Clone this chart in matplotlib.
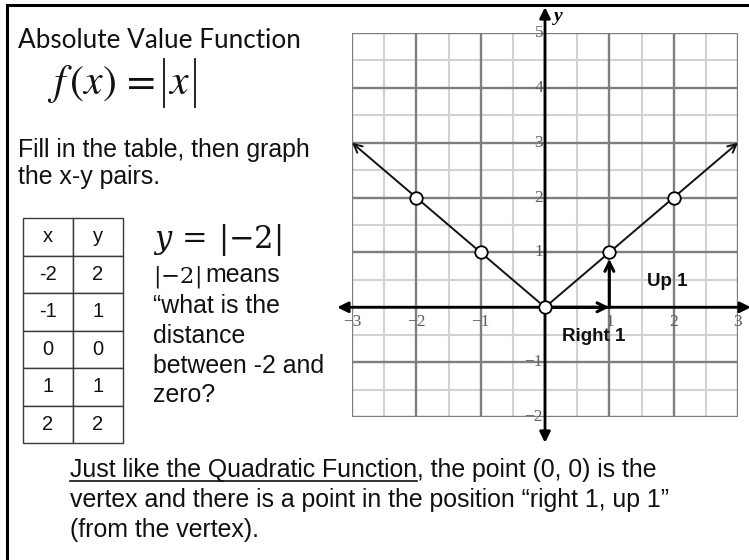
import numpy as np
import matplotlib
matplotlib.use("Agg")
import matplotlib.pyplot as plt
from matplotlib.patches import Rectangle
from matplotlib.lines import Line2D

plt.rcParams['mathtext.fontset'] = 'stix'

W, H = 749, 560

# ---- data ----
table_x = [-2, -1, 0, 1, 2]
table_y = [2, 1, 0, 1, 2]
line_x = [-3, 0, 3]
line_y = [3, 0, 3]
x_ticks = [-3, -2, -1, 1, 2, 3]
x_tick_labels = ['−3', '−2', '−1', '1', '2', '3']
y_ticks = [-2, -1, 1, 2, 3, 4, 5]
y_tick_labels = ['−2', '−1', '1', '2', '3', '4', '5']
vertex = (0, 0)
right_one = (1, 0)
up_one = (1, 1)
x_range = (-3, 3)
y_range = (-2, 5)

fig = plt.figure(figsize=(W / 100, H / 100), dpi=100)
fig.patch.set_facecolor('white')

def ftxt(x, y, s, **kw):
    return fig.text(x / W, 1 - y / H, s, **kw)

def fline(x0, y0, x1, y1, **kw):
    fig.add_artist(Line2D([x0 / W, x1 / W], [1 - y0 / H, 1 - y1 / H],
                          transform=fig.transFigure, **kw))

SANS = ['Liberation Sans', 'DejaVu Sans']
SERIF = ['Liberation Serif', 'DejaVu Serif']
TXT = '#111111'
FS = 17.9

# border (top and left visible)
fig.add_artist(Rectangle((7 / W, -0.05), 1.2, 1 - 5 / H + 0.05, transform=fig.transFigure,
                         fill=False, lw=2.2, edgecolor='black', clip_on=False))

# ---- graph ----
ax = fig.add_axes([352 / W, 1 - 417 / H, 386 / W, 384 / H])
ax.set_xlim(*x_range)
ax.set_ylim(*y_range)
ax.axis('off')

xs = np.arange(x_range[0], x_range[1] + 0.01, 0.5)
ys = np.arange(y_range[0], y_range[1] + 0.01, 0.5)
for v in xs:
    if v != int(v):
        ax.plot([v, v], y_range, color='#d2d2d2', lw=1.5, zorder=1, solid_capstyle='butt')
for v in ys:
    if v != int(v):
        ax.plot(x_range, [v, v], color='#d2d2d2', lw=1.5, zorder=1, solid_capstyle='butt')
for v in xs:
    if v == int(v):
        ax.plot([v, v], y_range, color='#7e7e7e', lw=1.7, zorder=2, solid_capstyle='projecting')
for v in ys:
    if v == int(v):
        ax.plot(x_range, [v, v], color='#7e7e7e', lw=1.7, zorder=2, solid_capstyle='projecting')

# axes arrows
ax.annotate('', xy=(3.2, 0), xytext=(-3.23, 0), annotation_clip=False,
            arrowprops=dict(arrowstyle='<|-|>', lw=2.0, color='black',
                            mutation_scale=16, shrinkA=0, shrinkB=0), zorder=4)
ax.annotate('', xy=(0, 5.47), xytext=(0, -2.47), annotation_clip=False,
            arrowprops=dict(arrowstyle='<|-|>', lw=2.0, color='black',
                            mutation_scale=16, shrinkA=0, shrinkB=0), zorder=4)

# tick labels
for xt, lab in zip(x_ticks, x_tick_labels):
    ax.text(xt, -0.26, lab, ha='center', va='center', fontsize=12.5,
            family=SERIF, color='#5e5e5e', zorder=3)
for yt, lab in zip(y_ticks, y_tick_labels):
    ax.text(-0.03, yt, lab, ha='right', va='center', fontsize=12.5,
            family=SERIF, color='#5e5e5e', zorder=3)
ax.text(0.14, 5.3, 'y', ha='left', va='center', fontsize=14, fontstyle='italic',
        fontweight='bold', family=SERIF, color='black')

# function branches with arrowheads
for i in (0, 2):
    ax.annotate('', xy=(line_x[i], line_y[i]), xytext=(line_x[1], line_y[1]),
                annotation_clip=False,
                arrowprops=dict(arrowstyle='->', lw=1.4, color='#111111', mutation_scale=15,
                                shrinkA=0, shrinkB=0), zorder=5)

# right 1, up 1 arrows
ax.annotate('', xy=right_one, xytext=vertex, annotation_clip=False,
            arrowprops=dict(arrowstyle='->', lw=2.2, color='black', mutation_scale=16,
                            shrinkA=0, shrinkB=0), zorder=6)
ax.annotate('', xy=(up_one[0], up_one[1] - 0.12), xytext=right_one, annotation_clip=False,
            arrowprops=dict(arrowstyle='->', lw=2.2, color='black', mutation_scale=16,
                            shrinkA=0, shrinkB=0), zorder=6)

ax.plot(table_x, table_y, 'o', mfc='white', mec='black', ms=9, mew=1.3, zorder=7, clip_on=False)

ax.text(1.9, 0.47, 'Up 1', ha='center', va='center', fontsize=13.5, fontweight='bold',
        family=SANS, color=TXT, zorder=8)
ax.text(0.75, -0.53, 'Right 1', ha='center', va='center', fontsize=13.5, fontweight='bold',
        family=SANS, color=TXT, zorder=8)

# ---- left text ----
ftxt(18, 48, 'Absolute Value Function', fontsize=18.8, family=['Lato', 'DejaVu Sans'],
     color=TXT, va='baseline')
ftxt(47, 94, r'$f\,(x)\,=$', fontsize=30, color=TXT, va='baseline')
fline(164, 59, 164, 107, color=TXT, lw=1.3)
ftxt(168, 94, r'$x$', fontsize=30, color=TXT, va='baseline')
fline(195, 59, 195, 107, color=TXT, lw=1.3)

ftxt(18, 157, 'Fill in the table, then graph', fontsize=FS, family=SANS, color=TXT, va='baseline')
ftxt(18, 184, 'the x-y pairs.', fontsize=FS, family=SANS, color=TXT, va='baseline')

ftxt(153, 248, r'$y\,=\,|{-}2|$', fontsize=22, color=TXT, va='baseline',
     math_fontfamily='dejavuserif')
tm = ftxt(153, 282, r'$|{-}2|$', fontsize=FS - 1.5, color=TXT, va='baseline',
          math_fontfamily='dejavuserif')
for yy, line in zip([313, 343, 373, 402], ['“what is the', 'distance', 'between -2 and', 'zero?']):
    ftxt(153, yy, line, fontsize=FS, family=SANS, color=TXT, va='baseline')

# table
axt = fig.add_axes([23 / W, 1 - 443 / H, 100 / W, 225 / H])
axt.axis('off')
cells = [['x', 'y']] + [[str(a), str(b)] for a, b in zip(table_x, table_y)]
tb = axt.table(cellText=cells, cellLoc='center', bbox=[0, 0, 1, 1])
tb.auto_set_font_size(False)
for (r, c), cell in tb.get_celld().items():
    cell.set_edgecolor('#3a3a3a')
    cell.set_linewidth(1.0)
    cell.get_text().set_fontsize(14.5)
    cell.get_text().set_fontfamily(SANS)
    cell.get_text().set_color(TXT)

# ---- bottom text ----
t1 = ftxt(70, 477, 'Just like the Quadratic Function', fontsize=FS, family=SANS,
          color=TXT, va='baseline')
fig.canvas.draw()
r = fig.canvas.get_renderer()
bb = t1.get_window_extent(r)
x_end = bb.x1
fig.add_artist(Line2D([70 / W, x_end / W], [1 - 480.5 / H, 1 - 480.5 / H],
                      transform=fig.transFigure, color=TXT, lw=1.2))
fig.text(x_end / W, 1 - 477 / H, ', the point (0, 0) is the', fontsize=FS, family=SANS,
         color=TXT, va='baseline')
ftxt(70, 507, 'vertex and there is a point in the position “right 1, up 1”', fontsize=FS,
     family=SANS, color=TXT, va='baseline')
ftxt(70, 537, '(from the vertex).', fontsize=FS, family=SANS, color=TXT, va='baseline')

mb = tm.get_window_extent(r)
fig.text((mb.x1 + 5) / W, 1 - 282 / H, 'means', fontsize=FS, family=SANS, color=TXT,
         va='baseline')

fig.savefig('out.png', dpi=100)
